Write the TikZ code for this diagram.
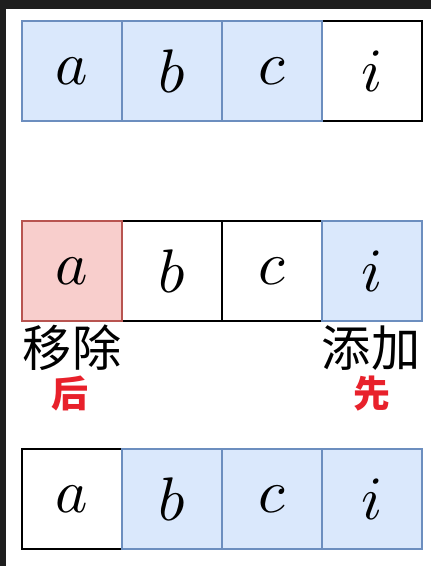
\documentclass[tikz,border=0pt]{standalone}
\usepackage{fontspec}
\newfontfamily\cjk{Noto Sans CJK SC}
\usetikzlibrary{positioning}

\definecolor{bluefill}{HTML}{DAE8FC}
\definecolor{blueline}{HTML}{6C8EBF}
\definecolor{redfill}{HTML}{F8CECC}
\definecolor{redline}{HTML}{B85450}
\definecolor{frame}{HTML}{1E1E1E}
\definecolor{marker}{HTML}{E8212B}

\newcommand{\letter}[1]{\scalebox{3.5}{$#1$}}

\tikzset{
cell/.style={draw=black, line width=0.8pt, fill=white, minimum size=2cm,
  inner sep=0pt, font=\normalsize},
bluecell/.style={cell, draw=blueline, fill=bluefill},
redcell/.style={cell, draw=redline, fill=redfill},
action/.style={inner sep=0pt, font=\cjk\fontsize{28}{32}\selectfont},
order/.style={inner sep=0pt, text=marker, font=\cjk\bfseries\fontsize{21}{24}\selectfont}
}

\begin{document}
\begin{tikzpicture}

% frame
\fill[frame] (0,0) rectangle (8.62,-11.32);
\fill[white] (0.12,-0.18) rectangle (8.62,-11.32);

% row 1: a b c queued, i waiting
\node[cell] (ri) at (7.44,-1.42) {\letter{i}};
\foreach \k/\t in {0/a,1/b,2/c}
{
\node[bluecell] (r\t) at (1.44+2*\k,-1.42) {\letter{\t}};
}

% row 2: add i first, then remove a
\begin{scope}[yshift=-4cm]
\node[cell] (sb) at (3.44,-1.42) {\letter{b}};
\node[cell] (sc) at (5.44,-1.42) {\letter{c}};
\node[redcell] (sa) at (1.44,-1.42) {\letter{a}};
\node[bluecell] (si) at (7.44,-1.42) {\letter{i}};

\node[action] (remove) at (1.44,-2.96) {移除};
\node[action] (add) at (7.42,-2.96) {添加};
\node[order] (after) at (1.40,-3.88) {后};
\node[order] (first) at (7.44,-3.88) {先};
\end{scope}

% row 3: b c i
\node[cell] (ta) at (1.44,-9.98) {\letter{a}};
\foreach \k/\t in {1/b,2/c,3/i}
{
\node[bluecell] (t\t) at (1.44+2*\k,-9.98) {\letter{\t}};
}

\end{tikzpicture}
\end{document}
